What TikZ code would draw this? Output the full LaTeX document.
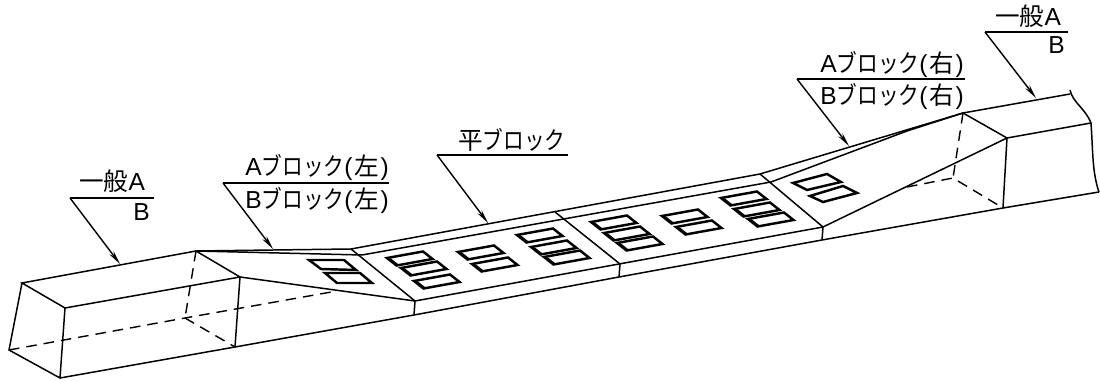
\documentclass[tikz,border=0pt]{standalone}
\usepackage{fontspec}
\setmainfont{Liberation Sans}
\newfontfamily\cjk{Noto Sans CJK JP}
\newfontfamily\cjkkana[FakeStretch=0.84]{Noto Sans CJK JP}
\usetikzlibrary{arrows.meta}
\tikzset{
  edge/.style={line width=0.85pt},
  hidden/.style={line width=0.8pt,dash pattern=on 6pt off 4pt},
  winline/.style={line width=1.4pt,line join=miter},
  leader/.style={line width=0.8pt,-{Stealth[length=8pt,width=3pt]}},
  label/.style={anchor=base west,inner sep=0pt,font=\fontsize{14}{16}\selectfont}
}
\newcommand{\blk}{{\cjkkana\fontsize{14}{16}\selectfont ブロック}}
% window seen from above, one corner given
\newcommand{\flatwin}[1]{
  \draw[winline] #1 -- ++(36,-6.5) -- ++(9.5,7.5) -- ++(-36,6.5) -- cycle;
  \draw[line width=0.6pt] #1 ++(3.5,0.8) -- ++(8.5,6.7);
}
\begin{document}
\begin{tikzpicture}[x=0.02cm,y=-0.02cm]
\useasboundingbox (0,0) rectangle (1100,381);
% left straight part
\draw[edge] (22,283) -- (196,251) -- (240,277) -- (65,308) -- cycle;
\draw[edge] (22,283) -- (9,350) -- (60,378) -- (65,308);
\draw[edge] (60,378) -- (235,347) -- (240,277);
\draw[hidden] (196,251) -- (185,318);
\draw[hidden] (9,350) -- (185,318) -- (337,291);
\draw[hidden] (185,318) -- (235,347);
% left slope
\draw[edge] (196,251) -- (351,249);
\draw[edge] (196,251) -- (362,255);
\draw[edge] (240,277) -- (415,301);
\draw[edge] (351,249) -- (415,301) -- (414,315);
\draw[edge] (235,347) -- (414,315);
\draw[edge] (414,315) -- (619,277);
% flat blocks
\draw[edge] (351,249) -- (760,174);
\draw[edge] (362,255) -- (771,182);
\draw[edge] (415,301) -- (823,227);
\draw[edge] (555,212) -- (620,264) -- (619,277);
\draw[edge] (619,277) -- (822,240);
% right slope
\draw[edge] (760,174) -- (823,227) -- (822,240);
\draw[edge] (760,174) -- (963,113);
\draw[edge] (771,182) -- (907,131) -- (963,113);
\draw[edge] (823,227) -- (1007,138);
\draw[edge] (822,240) -- (1003,208);
\draw[hidden] (963,113) -- (953,178);
\draw[hidden] (907,187) -- (953,178) -- (1003,208);
% right straight part
\draw[edge] (963,113) -- (1070,94);
\draw[edge] (963,113) -- (1007,138) -- (1091,123);
\draw[edge] (1007,138) -- (1003,208) -- (1099,192);
\draw[edge] (1070,90) .. controls (1073,103) and (1085,108) .. (1091,123)
  .. controls (1093,150) and (1092,172) .. (1099,192);
% windows
\foreach \c in {(387,258),(401,268),(414,281),(458,252),(472,264),(517,235),(531,247),(544,257),
  (591,222),(604,233),(617,243),(662,216),(676,227),(721,198),(734,209),(748,219)}{
  \flatwin{\c}
}
\draw[winline] (309,260) -- (344,260) -- (356,270) -- (321,269) -- cycle;
\draw[winline] (325,273) -- (360,273) -- (372,283) -- (337,283) -- cycle;
\draw[winline] (793,183) -- (827,174) -- (841,182) -- (807,190) -- cycle;
\draw[winline] (810,196) -- (843,186) -- (857,193) -- (823,202) -- cycle;
% labels
\node[label] (genA1) at (79,191) {{\cjk 一般}A};
\node[label] (genB1) at (133,221) {B};
\node[label] (blkAL) at (245,176) {A\blk(\kern1pt{\cjk 左}\kern1pt)};
\node[label] (blkBL) at (245,209) {B\blk(\kern1pt{\cjk 左}\kern1pt)};
\node[label] (flat) at (458,150) {{\cjk 平}\blk};
\node[label] (blkAR) at (820,73) {A\blk(\kern1pt{\cjk 右}\kern1pt)};
\node[label] (blkBR) at (820,105) {B\blk(\kern1pt{\cjk 右}\kern1pt)};
\node[label] (genA2) at (995,26) {{\cjk 一般}A};
\node[label] (genB2) at (1048,54) {B};
% leaders
\coordinate (lead1) at (70,198);
\coordinate (lead2) at (223,183);
\coordinate (lead3) at (437,155);
\coordinate (lead4) at (797,79);
\coordinate (lead5) at (985,32);
\draw[edge] (lead1) -- (154,198);
\draw[edge] (lead2) -- (389,183);
\draw[edge] (lead3) -- (568,155);
\draw[edge] (lead4) -- (965,79);
\draw[edge] (lead5) -- (1068,32);
\draw[leader] (lead1) -- (120,264);
\draw[leader] (lead2) -- (273,249);
\draw[leader] (lead3) -- (488,223);
\draw[leader] (lead4) -- (849,146);
\draw[leader] (lead5) -- (1036,98);
\end{tikzpicture}
\end{document}
